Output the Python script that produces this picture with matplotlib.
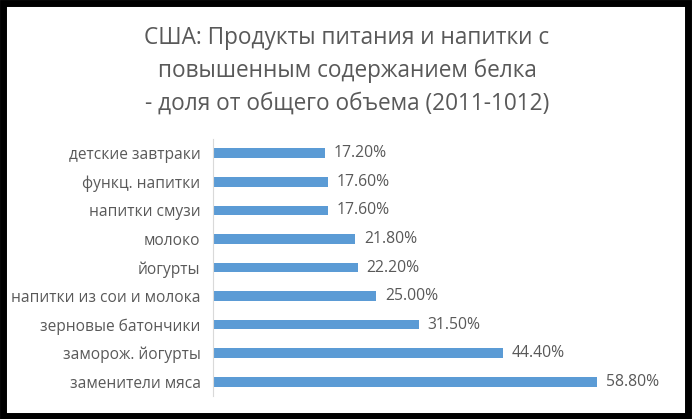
import matplotlib
matplotlib.use("Agg")
import matplotlib.pyplot as plt
from matplotlib.patches import Rectangle

# категории снизу вверх
categories = ['заменители мяса', 'заморож. йогурты', 'зерновые батончики',
              'напитки из сои и молока', 'йогурты', 'молоко',
              'напитки смузи', 'функц. напитки', 'детские завтраки']
values = [58.8, 44.4, 31.5, 25.0, 22.2, 21.8, 17.6, 17.6, 17.2]

title = ('США: Продукты питания и напитки с\n'
         'повышенным содержанием белка\n'
         '- доля от общего объема (2011-1012)')

plt.rcParams['font.family'] = ['Open Sans', 'DejaVu Sans']
text_color = '#595959'
bar_color = '#5b9bd5'

fig = plt.figure(figsize=(6.94, 4.19), dpi=100)
ax = fig.add_axes([213/694, 1 - 396/419, (660-213)/694, (396-139)/419])

ypos = range(len(categories))
ax.barh(ypos, values, height=0.34, color=bar_color)
for y, v in zip(ypos, values):
    ax.text(v + 1.3, y, f'{v:.2f}%', va='center', ha='left',
            fontsize=11.3, color=text_color)

ax.set_yticks(list(ypos), categories)
ax.set_ylim(-0.5, len(categories) - 0.5)
ax.set_xlim(0, 68.4)
ax.tick_params(axis='y', length=0, labelsize=11.2, labelcolor=text_color, pad=9)
ax.set_xticks([])
for s in ['top', 'right', 'bottom']:
    ax.spines[s].set_visible(False)
ax.spines['left'].set_color('#d9d9d9')

fig.text(0.5, 1 - 71/419, title, ha='center', va='center', fontsize=16.3,
         color=text_color, linespacing=1.48)

# чёрная рамка вокруг картинки
fig.patches.append(Rectangle((0.004, 0.008), 0.988, 0.984, transform=fig.transFigure,
                             fill=False, edgecolor='black', linewidth=5))

fig.savefig('out.png', dpi=100)
